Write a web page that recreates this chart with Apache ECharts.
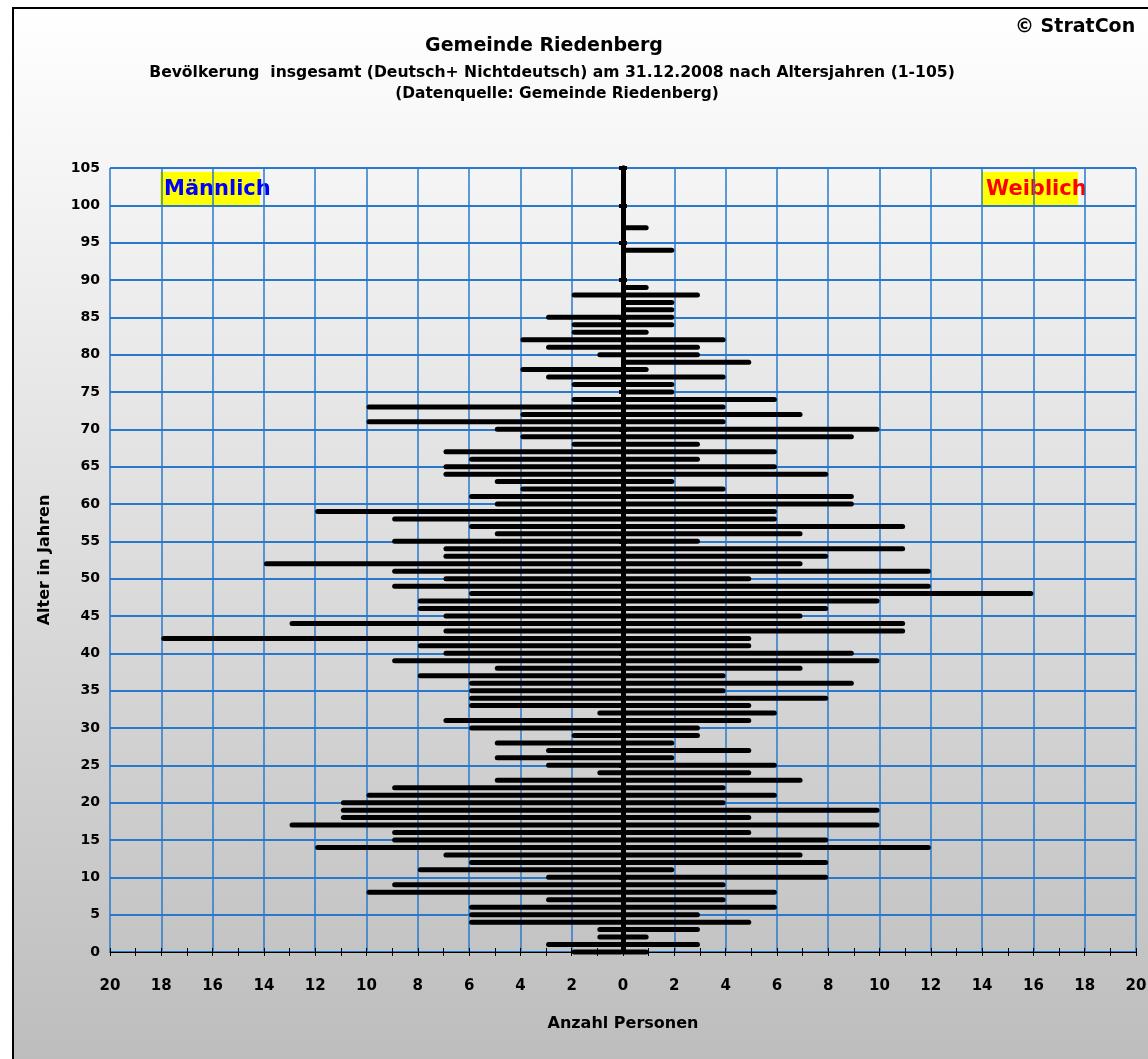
<!DOCTYPE html>
<html>
<head>
<meta charset="utf-8">
<title>Gemeinde Riedenberg</title>
<script src="https://cdn.jsdelivr.net/npm/echarts@6/dist/echarts.min.js"></script>
<style>
  html, body { margin: 0; padding: 0; background: #fff; }
  body { position: relative; width: 1148px; height: 1059px; overflow: hidden; }
  #frame {
    position: absolute; left: 12px; top: 7px; width: 1200px; height: 1100px;
    border-left: 2px solid #000; border-top: 2px solid #000;
    background: linear-gradient(to bottom, #ffffff 0px, #bdbdbd 1052px);
  }
  #chart { position: absolute; left: 0; top: 0; width: 1148px; height: 1059px; }
</style>
</head>
<body>
<div id="frame"></div>
<div id="chart"></div>
<script>
// Altersjahre 0..105 (Kategorien der Y-Achse)
const ages = Array.from({ length: 106 }, (_, i) => String(i));

// Männlich, Anzahl Personen je Altersjahr 0..105
const male = [
  2, 3, 1, 1, 6, 6, 6, 3, 10, 9,
  3, 8, 6, 7, 12, 9, 9, 13, 11, 11,
  11, 10, 9, 5, 1, 3, 5, 3, 5, 2,
  6, 7, 1, 6, 6, 6, 6, 8, 5, 9,
  7, 8, 18, 7, 13, 7, 8, 8, 6, 9,
  7, 9, 14, 7, 7, 9, 5, 6, 9, 12,
  5, 6, 4, 5, 7, 7, 6, 7, 2, 4,
  5, 10, 4, 10, 2, 0, 2, 3, 4, 0,
  1, 3, 4, 2, 2, 3, 0, 0, 2, 0,
  0, 0, 0, 0, 0, 0, 0, 0, 0, 0,
  0, 0, 0, 0, 0, 0
];

// Weiblich, Anzahl Personen je Altersjahr 0..105
const female = [
  1, 3, 1, 3, 5, 3, 6, 4, 6, 4,
  8, 2, 8, 7, 12, 8, 5, 10, 5, 10,
  4, 6, 4, 7, 5, 6, 2, 5, 2, 3,
  3, 5, 6, 5, 8, 4, 9, 4, 7, 10,
  9, 5, 5, 11, 11, 7, 8, 10, 16, 12,
  5, 12, 7, 8, 11, 3, 7, 11, 6, 6,
  9, 9, 4, 2, 8, 6, 3, 6, 3, 9,
  10, 4, 7, 4, 6, 2, 2, 4, 1, 5,
  3, 3, 4, 1, 2, 2, 2, 2, 3, 1,
  0, 0, 0, 0, 2, 0, 0, 1, 0, 0,
  0, 0, 0, 0, 0, 0
];

const FONT = '"DejaVu Sans", "Liberation Sans", Arial, sans-serif';
const gridBlue = '#2a78cc';

const chart = echarts.init(document.getElementById('chart'), null, { renderer: 'canvas' });

// zentrale Achse bei 0 (dicke schwarze Linie mit Strichen alle 5 Jahre)
const centerAxis = (pos) => ({
  type: 'category',
  data: ages,
  boundaryGap: false,
  position: pos,
  axisLine: { show: true, onZero: true, onZeroAxisIndex: 0, lineStyle: { color: '#000', width: 5 } },
  axisTick: { show: true, interval: 4, length: 4, lineStyle: { color: '#000', width: 4 } },
  axisLabel: { show: false },
  splitLine: { show: false }
});

chart.setOption({
  backgroundColor: 'transparent',
  animation: false,
  grid: { left: 110, right: 12, top: 168, bottom: 107, containLabel: false, outerBoundsMode: 'none' },
  xAxis: [
    {
      type: 'value',
      min: -20,
      max: 20,
      interval: 2,
      position: 'bottom',
      axisLine: { show: true, onZero: false, lineStyle: { color: '#000', width: 1 } },
      axisTick: { show: true, length: 4, lineStyle: { color: '#000' } },
      minorTick: { show: true, splitNumber: 2, length: 4, lineStyle: { color: '#000' } },
      axisLabel: {
        formatter: (v) => String(Math.abs(v)),
        margin: 27,
        color: '#000',
        fontFamily: FONT,
        fontWeight: 'bold',
        fontSize: 15
      },
      splitLine: { show: true, lineStyle: { color: gridBlue, width: 1.5 } },
      name: 'Anzahl Personen',
      nameLocation: 'middle',
      nameGap: 64,
      nameTextStyle: { color: '#000', fontFamily: FONT, fontWeight: 'bold', fontSize: 16 }
    },
    {
      type: 'value',
      min: -20,
      max: 20,
      interval: 2,
      position: 'bottom',
      axisLine: { show: false, onZero: false },
      axisTick: { show: true, inside: true, length: 4, lineStyle: { color: '#000' } },
      minorTick: { show: true, splitNumber: 2, length: 4, lineStyle: { color: '#000' } },
      axisLabel: { show: false },
      splitLine: { show: false }
    }
  ],
  yAxis: [
    {
      type: 'category',
      data: ages,
      boundaryGap: false,
      position: 'left',
      axisLine: { show: false, onZero: false },
      axisTick: { show: false },
      axisLabel: {
        interval: 4,
        margin: 10,
        color: '#000',
        fontFamily: FONT,
        fontWeight: 'bold',
        fontSize: 14
      },
      splitLine: { show: true, interval: 4, lineStyle: { color: gridBlue, width: 2 } },
      name: 'Alter in Jahren',
      nameLocation: 'middle',
      nameGap: 57,
      nameRotate: 90,
      nameTextStyle: { color: '#000', fontFamily: FONT, fontWeight: 'bold', fontSize: 16 }
    },
    centerAxis('left'),
    centerAxis('right')
  ],
  series: [
    {
      name: 'Männlich',
      type: 'bar',
      stack: 'pyramide',
      xAxisIndex: 0,
      yAxisIndex: 0,
      barWidth: 5,
      data: male.map((v) => -v),
      itemStyle: { color: '#000', borderRadius: 2.5 },
      silent: true
    },
    {
      name: 'Weiblich',
      type: 'bar',
      stack: 'pyramide',
      xAxisIndex: 0,
      yAxisIndex: 0,
      barWidth: 5,
      data: female,
      itemStyle: { color: '#000', borderRadius: 2.5 },
      silent: true
    }
  ],
  graphic: [
    {
      type: 'text', x: 544, y: 46,
      style: { text: 'Gemeinde Riedenberg', fill: '#000', font: 'bold 19px ' + FONT, textAlign: 'center', textVerticalAlign: 'middle' }
    },
    {
      type: 'text', x: 552, y: 73,
      style: { text: 'Bevölkerung  insgesamt (Deutsch+ Nichtdeutsch) am 31.12.2008 nach Altersjahren (1-105)', fill: '#000', font: 'bold 15.6px ' + FONT, textAlign: 'center', textVerticalAlign: 'middle' }
    },
    {
      type: 'text', x: 557, y: 94,
      style: { text: '(Datenquelle: Gemeinde Riedenberg)', fill: '#000', font: 'bold 15.4px ' + FONT, textAlign: 'center', textVerticalAlign: 'middle' }
    },
    {
      type: 'text', x: 1015, y: 27,
      style: { text: '© StratCon', fill: '#000', font: 'bold 19px ' + FONT, textAlign: 'left', textVerticalAlign: 'middle' }
    },
    { type: 'rect', shape: { x: 160, y: 172, width: 100, height: 33 }, style: { fill: '#ffff00' } },
    {
      type: 'text', x: 164, y: 190,
      style: { text: 'Männlich', fill: '#0000ff', font: 'bold 21px ' + FONT, textAlign: 'left', textVerticalAlign: 'middle' }
    },
    { type: 'rect', shape: { x: 981, y: 172, width: 97, height: 33 }, style: { fill: '#ffff00' } },
    {
      type: 'text', x: 986, y: 190,
      style: { text: 'Weiblich', fill: '#ff0000', font: 'bold 21px ' + FONT, textAlign: 'left', textVerticalAlign: 'middle' }
    }
  ]
});
</script>
</body>
</html>
